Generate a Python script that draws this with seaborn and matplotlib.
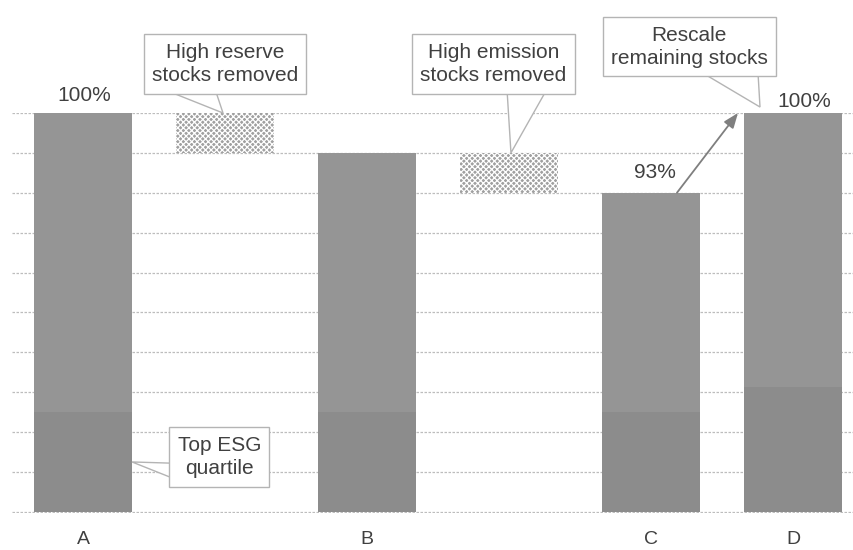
import matplotlib
matplotlib.use("Agg")
import matplotlib.pyplot as plt
from matplotlib.patches import Polygon
import seaborn as sns
import pandas as pd
import numpy as np

# stage bars (schematic index, 0-100)
stage_labels = ["A", "B", "C", "D"]
stage_slots = [0, 2, 4, 5]
stage_totals = [100, 90, 80, 100]
stage_top_esg = [25, 25, 25, 31.25]

# removed (floating) pieces
removed_slots = [1, 3]
removed_bottom = [90, 80]
removed_height = [10, 10]

value_texts = ["100%", "93%", "100%"]

sns.set_style("white")
plt.rcParams["font.family"] = ["Liberation Sans", "DejaVu Sans"]
plt.rcParams["hatch.color"] = "#858585"
plt.rcParams["hatch.linewidth"] = 0.9

stages = pd.DataFrame({"slot": stage_slots, "total": stage_totals, "esg": stage_top_esg})
removed = pd.DataFrame({"slot": removed_slots, "bottom": removed_bottom, "height": removed_height})

fig = plt.figure(figsize=(8.54, 5.5), dpi=100)
ax = fig.add_axes([12 / 854, 37 / 550, 842 / 854, 400 / 550])

bar_kw = dict(native_scale=True, saturation=1, errorbar=None, ax=ax, linewidth=0)
sns.barplot(data=stages, x="slot", y="total", width=0.69, color="#959595", zorder=2, **bar_kw)
sns.barplot(data=stages, x="slot", y="esg", width=0.69, color="#8c8c8c", zorder=3, **bar_kw)
# slots 1 and 3 are 2 apart, so seaborn's native width is 2
sns.barplot(data=removed, x="slot", y="height", width=0.345, color="#a0a0a0", zorder=2,
            bottom=removed["bottom"].to_numpy(), hatch="xxxxxx", **bar_kw)

ax.set_xlim(-0.5, 5.43)
ax.set_ylim(-0.3, 100)
ax.set_yticks(np.arange(0, 101, 10))
ax.set_yticklabels([])
ax.yaxis.grid(True, linestyle=(0, (2, 1.2)), color="#bdbdbd", linewidth=0.9)
ax.set_axisbelow(True)
ax.set_xticks(stage_slots)
ax.set_xticklabels(stage_labels, fontsize=14, color="#404040")
ax.tick_params(axis="x", length=0, pad=13)
ax.tick_params(axis="y", length=0)
ax.set_xlabel(None)
ax.set_ylabel(None)
sns.despine(ax=ax, left=True, bottom=True)

txt = dict(fontsize=15, color="#404040", ha="center", va="center", clip_on=False)
ax.text(0.01, 104.5, value_texts[0], **txt)
ax.text(4.03, 85, value_texts[1], **txt)
ax.text(5.08, 103, value_texts[2], **txt)

# callouts: text, centre, wedge base points, wedge tip
callouts = [
    ("High reserve\nstocks removed", (1.0, 112.3), [(0.563, 106), (0.93, 106)], (0.986, 100)),
    ("High emission\nstocks removed", (2.89, 112.3), [(2.986, 106), (3.268, 106)], (3.014, 90)),
    ("Rescale\nremaining stocks", (4.27, 116.6), [(4.366, 110), (4.754, 110)], (4.768, 101.5)),
    ("Top ESG\nquartile", (0.96, 13.75), [(0.62, 12.2), (0.62, 8.6)], (0.345, 12.5)),
]
for label, (cx, cy), base, tip in callouts:
    ax.add_patch(Polygon(base + [tip], closed=True, facecolor="white",
                         edgecolor="#b4b4b4", linewidth=1, zorder=5, clip_on=False))
    ax.text(cx, cy, label, fontsize=15, color="#404040", ha="center", va="center",
            linespacing=1.3, zorder=6, clip_on=False,
            bbox=dict(boxstyle="square,pad=0.4", facecolor="white",
                      edgecolor="#b4b4b4", linewidth=1))

ax.annotate("", xy=(4.613, 100), xytext=(4.183, 80), annotation_clip=False,
            arrowprops=dict(arrowstyle="-|>,head_length=0.9,head_width=0.35",
                            color="#7f7f7f", linewidth=1.3, shrinkA=0, shrinkB=0))

fig.savefig("out.png", dpi=100)
